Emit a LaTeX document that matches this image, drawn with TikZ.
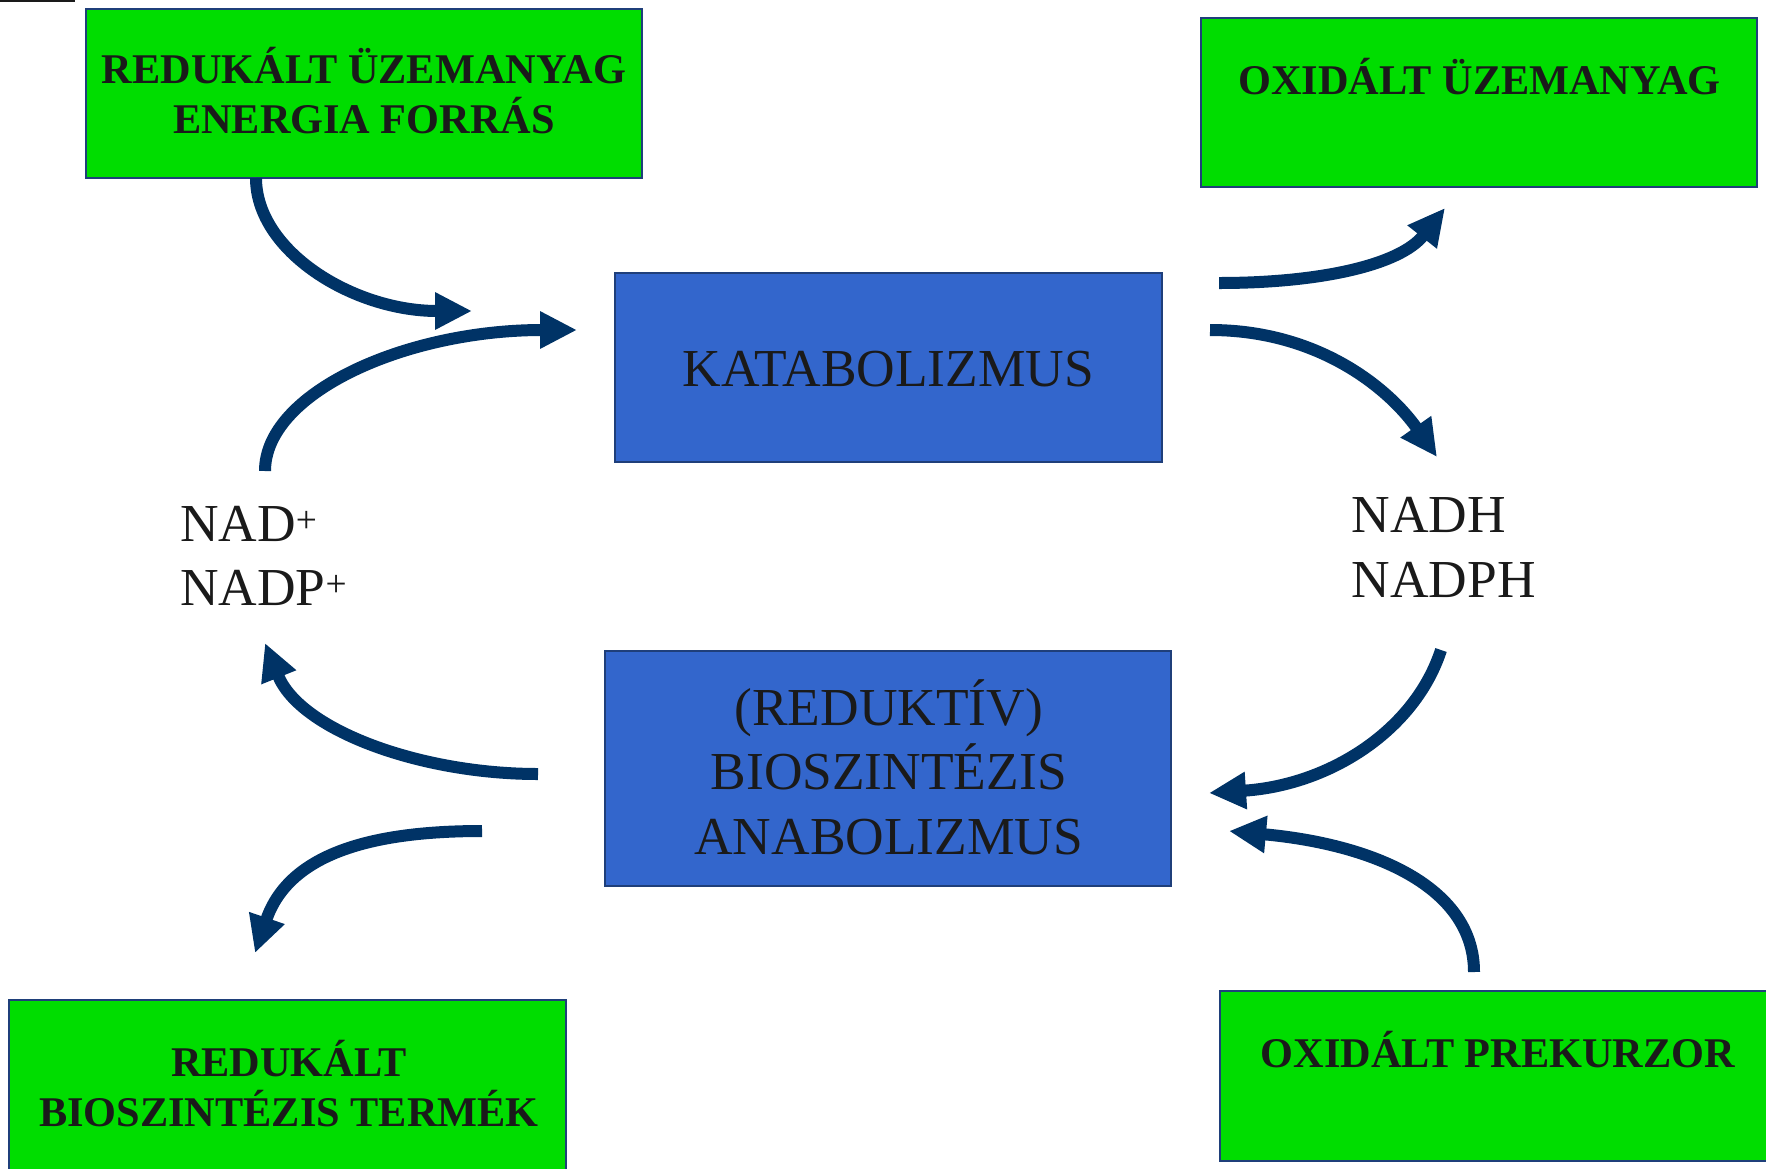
\documentclass[tikz,border=0pt]{standalone}
\usepackage{fontspec}
\setmainfont{Liberation Serif}
\usetikzlibrary{arrows.meta}

\definecolor{boxgreen}{HTML}{00DD00}
\definecolor{boxblue}{HTML}{3366CC}
\definecolor{boxedge}{HTML}{1F3F7A}
\definecolor{flow}{HTML}{003366}
\definecolor{ink}{HTML}{1A1A1A}

\tikzset{
  greenbox/.style={draw=boxedge, line width=2pt, fill=boxgreen, rectangle, inner sep=0pt},
  bluebox/.style={draw=boxedge, line width=2pt, fill=boxblue, rectangle, inner sep=0pt},
  boldlabel/.style={text=ink, align=center, inner sep=0pt,
    font=\fontsize{42.3}{50}\selectfont\bfseries},
  plainlabel/.style={text=ink, align=center, inner sep=0pt,
    font=\fontsize{53.4}{64.5}\selectfont},
  sidelabel/.style={plainlabel, align=left, anchor=west},
  flowarrow/.style={draw=flow, line width=12pt, -{Triangle[length=37pt,width=35pt]}},
}

\begin{document}
\begin{tikzpicture}[x=1pt, y=-1pt]
\useasboundingbox (0,0) rectangle (1766,1168);
\fill[white] (0,0) rectangle (1766,1168);

% short rule in the upper left corner
\draw[ink, line width=2pt] (0,1) -- (75,1);

% boxes
\node[greenbox, minimum width=556pt, minimum height=169pt] (fuelred) at (363.8,93.5) {};
\node[greenbox, minimum width=556pt, minimum height=169pt] (fuelox) at (1478.8,102.5) {};
\node[bluebox, minimum width=547pt, minimum height=189pt] (kat) at (888.5,367.3) {};
\node[bluebox, minimum width=566pt, minimum height=235pt] (ana) at (888,768.5) {};
\node[greenbox, minimum width=557pt, minimum height=176pt] (prodred) at (287.8,1088) {};
\node[greenbox, minimum width=552pt, minimum height=170pt] (precox) at (1496,1076) {};

% box texts
\node[boldlabel] (tfuelred) at (364,90.5) {REDUKÁLT ÜZEMANYAG\\ENERGIA FORRÁS};
\node[boldlabel] (tfuelox) at (1479.5,76.5) {OXIDÁLT ÜZEMANYAG};
\node[plainlabel] (tkat) at (888.5,369) {KATABOLIZMUS};
\node[plainlabel] (tana) at (888.7,767) {(REDUKTÍV)\\BIOSZINTÉZIS\\ANABOLIZMUS};
\node[boldlabel] (tprodred) at (289,1083.5) {REDUKÁLT\\BIOSZINTÉZIS TERMÉK};
\node[boldlabel] (tprecox) at (1498,1049.5) {OXIDÁLT PREKURZOR};

% cofactors
\node[sidelabel] (nadox) at (180,556) {NAD\textsuperscript{+}\\NADP\textsuperscript{+}};
\node[sidelabel] (nadred) at (1351.6,547.5) {NADH\\NADPH};

% arrow end points
\coordinate (a1) at (256,178);   \coordinate (a2) at (472,311);
\coordinate (b1) at (265,471);   \coordinate (b2) at (577,330);
\coordinate (c1) at (1219,283);  \coordinate (c2) at (1445,208);
\coordinate (d1) at (1210,330);  \coordinate (d2) at (1437,457);
\coordinate (e1) at (1441,650);  \coordinate (e2) at (1209,793);
\coordinate (f1) at (1474,972);  \coordinate (f2) at (1229,831);
\coordinate (g1) at (538,774);   \coordinate (g2) at (265,643);
\coordinate (h1) at (482,831);   \coordinate (h2) at (255,953);

% catabolic side
\draw[flowarrow] (a1) .. controls (256,251) and (353,311) .. (a2);
\draw[flowarrow] (b1) .. controls (265,393) and (405,330) .. (b2);
\draw[flowarrow] (c1) .. controls (1320,283) and (1400,265) .. (c2);
\draw[flowarrow] (d1) .. controls (1320,330) and (1390,390) .. (d2);

% anabolic side
\draw[flowarrow] (e1) .. controls (1415,730) and (1330,785) .. (e2);
\draw[flowarrow] (f1) .. controls (1474,890) and (1380,845) .. (f2);
\draw[flowarrow] (g1) .. controls (420,774) and (300,730) .. (g2);
\draw[flowarrow] (h1) .. controls (380,831) and (290,850) .. (h2);
\end{tikzpicture}
\end{document}
